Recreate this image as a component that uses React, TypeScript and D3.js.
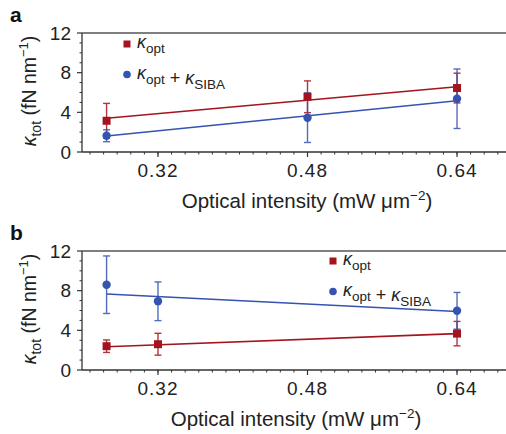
import React from "react";
import * as d3 from "d3";

const xTicks = [0.32, 0.48, 0.64];
const yTicks = [0, 4, 8, 12];

// Panel a
const aX = [0.265, 0.48, 0.64];
const aOpt = [3.15, 5.57, 6.45];
const aOptErr = [1.75, 1.6, 1.5];
const aTot = [1.64, 3.46, 5.37];
const aTotErr = [0.6, 2.5, 3.0];
const aOptFit = [3.4, 6.58];
const aTotFit = [1.62, 5.17];

// Panel b
const bX = [0.265, 0.32, 0.64];
const bOpt = [2.4, 2.6, 3.67];
const bOptErr = [0.63, 1.1, 1.23];
const bTot = [8.6, 6.93, 5.97];
const bTotErr = [2.9, 1.95, 1.85];
const bOptFit = [2.35, 3.67];
const bTotFit = [7.67, 5.9];

const RED = "#a3141e";
const BLUE = "#3553b0";
const AXIS = "#333";
const FONT = "'Liberation Sans', Arial, Helvetica, sans-serif";

const x = d3.scaleLinear().domain([0.2387, 0.6924]).range([82, 506]);
const minorStep = 0.16 / 11;
const xMinor = d3.range(-5, 30).map((i) => 0.32 + i * minorStep).filter((v) => x(v) >= 84 && x(v) <= 506);

function Kappa({ sub, size = 18 }: { sub: string; size?: number }) {
  return (
    <>
      <tspan fontStyle="italic" fontSize={size}>κ</tspan>
      <tspan fontSize={size * 0.75} dy={5}>{sub}</tspan>
      <tspan dy={-5}></tspan>
    </>
  );
}

function Panel({
  top, label, xs, opt, optErr, tot, totErr, optFit, totFit, legendX, legendY,
}: any) {
  const y = d3.scaleLinear().domain([0, 12]).range([top + 119, top]);
  const yMinor = d3.range(0, 13).filter((v) => v % 4 !== 0);
  const bottom = y(0);
  const fx = [xs[0], xs[xs.length - 1]];
  const line = d3.line<[number, number]>().x((d) => x(d[0])).y((d) => y(d[1]));
  const err = (xv: number, v: number, e: number, color: string, k: string) => (
    <g key={k} stroke={color} strokeWidth={1.4} opacity={0.85}>
      <line x1={x(xv)} x2={x(xv)} y1={y(v - e)} y2={y(v + e)} />
      <line x1={x(xv) - 3.5} x2={x(xv) + 3.5} y1={y(v - e)} y2={y(v - e)} />
      <line x1={x(xv) - 3.5} x2={x(xv) + 3.5} y1={y(v + e)} y2={y(v + e)} />
    </g>
  );
  return (
    <g fontFamily={FONT}>
      <text x={10} y={top - 11} fontSize={21} fontWeight="bold" fill="#111">{label}</text>
      {/* frame */}
      <line x1={82} x2={506} y1={top} y2={top} stroke="#555" strokeWidth={1.5} />
      <line x1={82} x2={506} y1={bottom} y2={bottom} stroke={AXIS} strokeWidth={1.3} />
      <line x1={82} x2={82} y1={top} y2={bottom} stroke={AXIS} strokeWidth={1.3} />
      {/* y ticks */}
      {yTicks.map((t) => (
        <g key={"y" + t}>
          <line x1={77} x2={82} y1={y(t)} y2={y(t)} stroke={AXIS} strokeWidth={1.2} />
          <text x={71} y={y(t) + 6.8} textAnchor="end" fontSize={19} fill="#222">{t}</text>
        </g>
      ))}
      {yMinor.map((t) => (
        <line key={"ym" + t} x1={79.5} x2={82} y1={y(t)} y2={y(t)} stroke={AXIS} strokeWidth={1} />
      ))}
      {/* x ticks */}
      {xMinor.map((t, i) => (
        <line key={"xm" + i} x1={x(t)} x2={x(t)} y1={bottom} y2={bottom + 2.5} stroke={AXIS} strokeWidth={1} />
      ))}
      {xTicks.map((t) => (
        <g key={"x" + t}>
          <line x1={x(t)} x2={x(t)} y1={bottom} y2={bottom + 5} stroke={AXIS} strokeWidth={1.2} />
          <text x={x(t)} y={bottom + 25} textAnchor="middle" fontSize={19} letterSpacing={1} fill="#222">{t.toFixed(2)}</text>
        </g>
      ))}
      {/* axis titles */}
      <text x={label === "a" ? 307 : 296} y={bottom + 56} textAnchor="middle" fontSize={20.5} fill="#222">
        Optical intensity (mW μm<tspan dy={-8} fontSize={13.5}>−2</tspan><tspan dy={8}>)</tspan>
      </text>
      <text transform={`translate(36,${top + 58}) rotate(-90)`} textAnchor="middle" fontSize={19.5} fill="#222">
        <tspan fontStyle="italic">κ</tspan>
        <tspan fontSize={14} dy={5}>tot</tspan>
        <tspan dy={-5}> (fN nm</tspan>
        <tspan fontSize={13} dy={-8}>−1</tspan>
        <tspan dy={8}>)</tspan>
      </text>
      {/* fit lines */}
      <path d={line(fx.map((v, i) => [v, optFit[i]]) as any)!} stroke={RED} strokeWidth={1.6} fill="none" />
      <path d={line(fx.map((v, i) => [v, totFit[i]]) as any)!} stroke={BLUE} strokeWidth={1.6} fill="none" />
      {/* error bars */}
      {xs.map((xv: number, i: number) => err(xv, opt[i], optErr[i], RED, "oe" + i))}
      {xs.map((xv: number, i: number) => err(xv, tot[i], totErr[i], BLUE, "te" + i))}
      {/* markers */}
      {xs.map((xv: number, i: number) => (
        <rect key={"or" + i} x={x(xv) - 4} y={y(opt[i]) - 4} width={8} height={8} fill={RED} />
      ))}
      {xs.map((xv: number, i: number) => (
        <circle key={"tc" + i} cx={x(xv)} cy={y(tot[i])} r={4.2} fill={BLUE} />
      ))}
      {/* legend */}
      <rect x={legendX - 3.5} y={legendY - 3.5} width={7} height={7} fill={RED} />
      <text x={legendX + 10} y={legendY + 4} fontSize={18} fill="#222">
        <Kappa sub="opt" />
      </text>
      <circle cx={legendX} cy={legendY + 30.5} r={3.8} fill={BLUE} />
      <text x={legendX + 10} y={legendY + 34.5} fontSize={18} fill="#222">
        <Kappa sub="opt" />
        <tspan> + </tspan>
        <Kappa sub="SIBA" />
      </text>
    </g>
  );
}

export default function App() {
  return (
    <svg width={506} height={434} style={{ display: "block", position: "absolute", left: 0, top: 0 }}>
      <rect width={506} height={434} fill="#fff" />
      <Panel top={33} label="a" xs={aX} opt={aOpt} optErr={aOptErr} tot={aTot} totErr={aTotErr}
        optFit={aOptFit} totFit={aTotFit} legendX={127} legendY={44} />
      <Panel top={251} label="b" xs={bX} opt={bOpt} optErr={bOptErr} tot={bTot} totErr={bTotErr}
        optFit={bOptFit} totFit={bTotFit} legendX={333} legendY={261} />
    </svg>
  );
}
